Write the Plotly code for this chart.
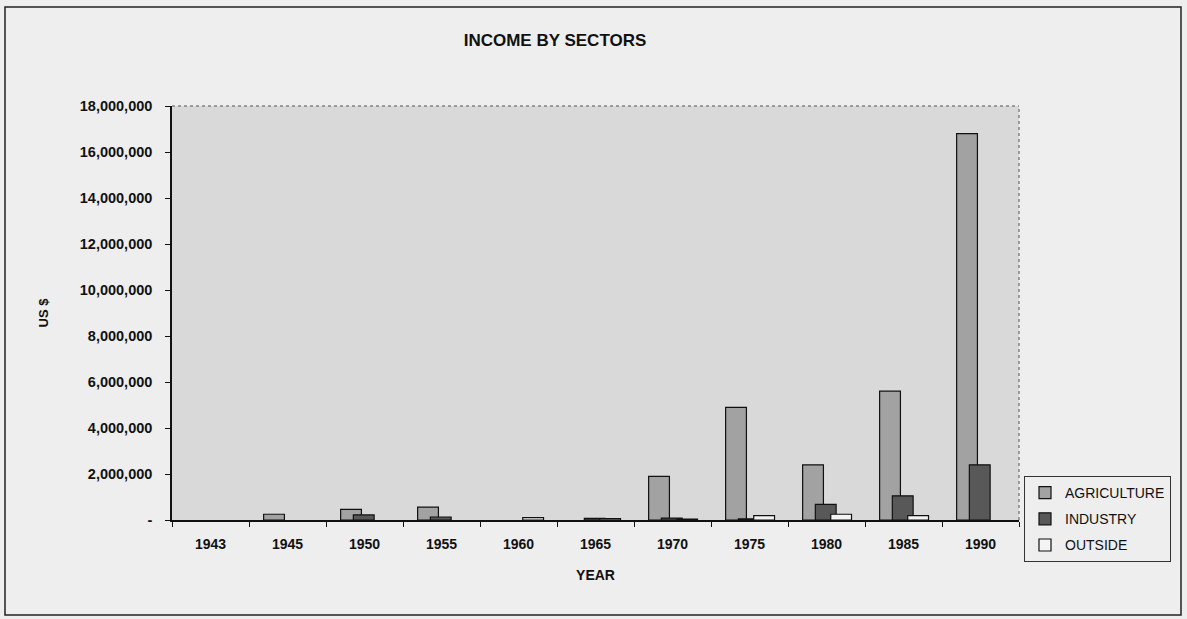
import plotly.graph_objects as go

years = ["1943", "1945", "1950", "1955", "1960", "1965", "1970", "1975", "1980", "1985", "1990"]
agriculture = [None, 250000, 460000, 560000, None, None, 1900000, 4900000, 2400000, 5600000, 16800000]
industry = [None, None, 220000, 130000, None, 70000, 80000, 50000, 680000, 1050000, 2400000]
outside = [None, None, None, None, 100000, 60000, 40000, 190000, 250000, 190000, None]

y_tickvals = [0, 2000000, 4000000, 6000000, 8000000, 10000000, 12000000, 14000000, 16000000, 18000000]
y_ticktext = ["-", "2,000,000", "4,000,000", "6,000,000", "8,000,000", "10,000,000",
              "12,000,000", "14,000,000", "16,000,000", "18,000,000"]

FONT = "Arial, Liberation Sans, sans-serif"

fig = go.Figure()
fig.add_trace(go.Bar(name="AGRICULTURE", x=years, y=agriculture, width=0.27, offset=-0.31,
                     legendgroup="a",
                     marker=dict(color="#a2a2a2", line=dict(color="#111111", width=1.2))))
fig.add_trace(go.Bar(name="INDUSTRY", x=years, y=industry, width=0.27, offset=-0.145,
                     legendgroup="b",
                     marker=dict(color="#585858", line=dict(color="#111111", width=1.2))))
fig.add_trace(go.Bar(name="OUTSIDE", x=years, y=outside, width=0.27, offset=0.055,
                     legendgroup="c",
                     marker=dict(color="#f4f4f4", line=dict(color="#111111", width=1.2))))

L, R, T, B = 172, 168, 106, 99
W, H = 1187, 619
pw, ph = W - L - R, H - T - B

fig.update_layout(
    width=W, height=H,
    margin=dict(l=L, r=R, t=T, b=B, pad=0, autoexpand=False),
    barmode="overlay",
    paper_bgcolor="#eeeeee",
    plot_bgcolor="#d9d9d9",
    font=dict(family=FONT, color="#111111"),
    title=dict(text="<b>INCOME BY SECTORS</b>", font=dict(size=17, family=FONT, color="#111111"),
               x=555 / W, xanchor="center", y=1 - 40 / H, yanchor="middle"),
    showlegend=True,
    legend=dict(x=(1024 - L) / pw, xanchor="left", y=(520 - 476) / ph, yanchor="top",
                bgcolor="#eeeeee", bordercolor="#333333", borderwidth=1,
                font=dict(size=14, family=FONT, color="#111111"),
                tracegroupgap=5, itemwidth=30, traceorder="grouped"),
    xaxis=dict(
        type="category", showgrid=False, showline=True, linecolor="#111111", linewidth=1.5,
        ticks="outside", ticklen=5, tickcolor="#111111", tickson="boundaries",
        tickfont=dict(size=14, family=FONT, color="#111111"),
        tickprefix="<b>", ticksuffix="</b>", ticklabelstandoff=10,
        title=dict(text="<b>YEAR</b>", font=dict(size=14, family=FONT, color="#111111"), standoff=20),
    ),
    yaxis=dict(
        range=[0, 18000000], showgrid=False, showline=True, linecolor="#111111", linewidth=1.5,
        ticks="outside", ticklen=5, tickcolor="#111111",
        tickvals=y_tickvals, ticktext=["<b>%s</b>" % t for t in y_ticktext],
        tickfont=dict(size=14.5, family=FONT, color="#111111"), ticklabelstandoff=10,
        title=dict(text="<b>US $</b>", font=dict(size=13, family=FONT, color="#111111"), standoff=28),
        zeroline=False,
    ),
)

# dotted plot-area border (top and right)
fig.add_shape(type="line", xref="x domain", yref="y domain", x0=0, x1=1, y0=1, y1=1,
              line=dict(color="#555555", width=1, dash="dot"))
fig.add_shape(type="line", xref="x domain", yref="y domain", x0=1, x1=1, y0=0, y1=1,
              line=dict(color="#555555", width=1, dash="dot"))
# outer chart frame
fig.add_shape(type="rect", xref="paper", yref="paper",
              x0=(5 - L) / pw, x1=(1181 - L) / pw, y0=(520 - 615) / ph, y1=(520 - 7) / ph,
              line=dict(color="#222222", width=1.5), fillcolor="rgba(0,0,0,0)", layer="below")

fig.write_html("out.html")
